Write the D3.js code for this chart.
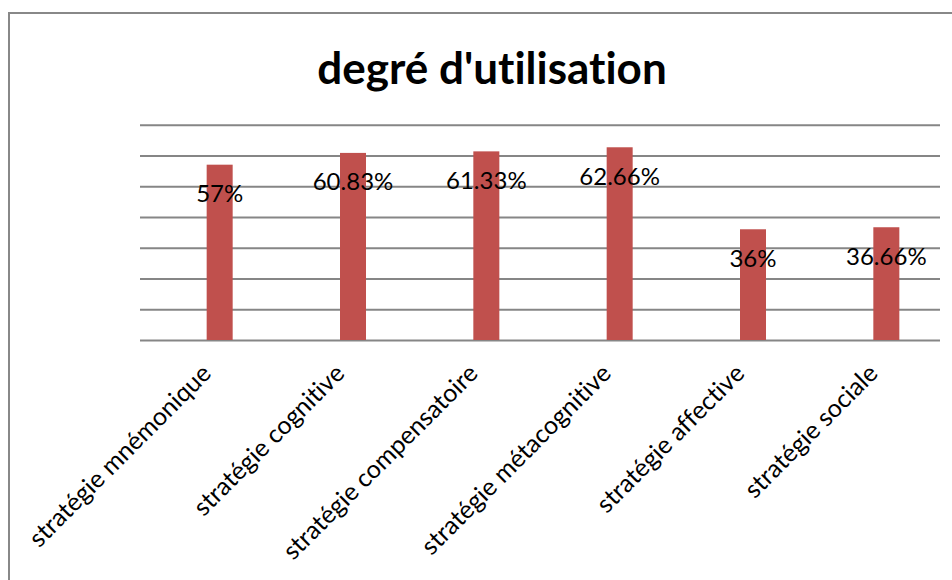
<!DOCTYPE html>
<html>
<head>
<meta charset="utf-8">
<script src="https://cdn.jsdelivr.net/npm/d3@7"></script>
<style>
  html, body { margin: 0; padding: 0; background: #ffffff; }
  svg { display: block; }
  text { font-family: Lato, "Open Sans", sans-serif; font-variant-ligatures: none; font-feature-settings: "liga" 0; }
</style>
</head>
<body>
<svg id="chart" width="952" height="580"></svg>
<script>
const title = "degré d'utilisation";
const categories = [
  "stratégie mnémonique",
  "stratégie cognitive",
  "stratégie compensatoire",
  "stratégie métacognitive",
  "stratégie affective",
  "stratégie sociale"
];
const values = [57, 60.83, 61.33, 62.66, 36, 36.66];
const valueLabels = ["57%", "60.83%", "61.33%", "62.66%", "36%", "36.66%"];
const gridTicks = [0, 10, 20, 30, 40, 50, 60, 70];

const svg = d3.select("#chart");
const W = 952, H = 580;

// outer frame
svg.append("rect")
  .attr("x", 9).attr("y", 13)
  .attr("width", W + 20).attr("height", H + 20)
  .attr("fill", "#ffffff")
  .attr("stroke", "#888888")
  .attr("stroke-width", 2);

// title
svg.append("text")
  .attr("x", 492).attr("y", 84)
  .attr("text-anchor", "middle")
  .attr("font-weight", "bold")
  .attr("font-size", 44)
  .attr("fill", "#000000")
  .text(title);

const y = d3.scaleLinear().domain([0, 70]).range([340, 124.7]);
const x = d3.scaleBand().domain(categories).range([153, 953])
  .paddingInner(0.805).paddingOuter(0.4025);

// gridlines
const gridG = svg.append("g").attr("transform", "translate(140,0)")
  .call(d3.axisLeft(y).tickValues(gridTicks).tickSize(-800).tickFormat(""));
gridG.select(".domain").remove();
gridG.selectAll(".tick line").attr("stroke", "#868686").attr("stroke-width", 2);

// bars
svg.append("g").selectAll("rect")
  .data(values)
  .join("rect")
  .attr("x", (d, i) => x(categories[i]))
  .attr("y", d => y(d))
  .attr("width", x.bandwidth())
  .attr("height", d => y(0) - y(d))
  .attr("fill", "#C0504D");

// data labels
svg.append("g").selectAll("text")
  .data(values)
  .join("text")
  .attr("x", (d, i) => x(categories[i]) + x.bandwidth() / 2)
  .attr("y", d => y(d) + 37.5)
  .attr("text-anchor", "middle")
  .attr("font-size", 24)
  .attr("fill", "#000000")
  .text((d, i) => valueLabels[i]);

// category labels
svg.append("g").selectAll("text")
  .data(categories)
  .join("text")
  .attr("transform", d => `translate(${x(d) + x.bandwidth() / 2 - 7},${y(0) + 35}) rotate(-45)`)
  .attr("text-anchor", "end")
  .attr("font-size", 25)
  .attr("fill", "#000000")
  .text(d => d);
</script>
</body>
</html>
